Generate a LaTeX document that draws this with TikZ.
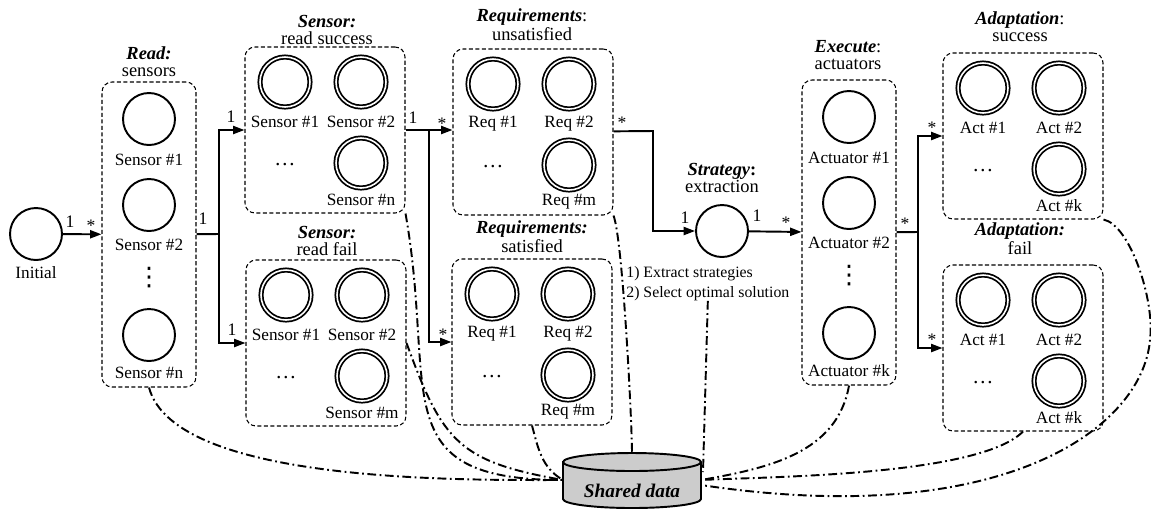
\documentclass[tikz,border=0pt]{standalone}
\usepackage{fontspec}
\setmainfont{Liberation Serif}
\newfontfamily\symfont{DejaVu Sans}
\usetikzlibrary{fit, arrows.meta}

\definecolor{dbgray}{RGB}{204,204,204}

\tikzset{
  state/.style={circle, draw, line width=1.1pt, minimum size=1.04cm, inner sep=0pt},
  fstate/.style={circle, draw, double, line width=1pt, double distance=0.9pt, minimum size=1cm, inner sep=0pt},
  group/.style={draw, dash pattern=on 2.3pt off 1.4pt, line width=0.6pt, rounded corners=0.2cm, inner sep=0pt},
  lbl/.style={font=\fontsize{9.8}{11}\selectfont, inner sep=0pt},
  title/.style={align=center, font=\fontsize{10.5}{9.5}\selectfont, inner sep=0pt},
  mult/.style={font=\fontsize{10}{11}\selectfont, inner sep=0pt},
  hdots/.style={font=\fontsize{12}{12}\selectfont, inner sep=0pt},
  vdots/.style={font=\symfont\fontsize{14.5}{15}\selectfont, inner sep=0pt},
  wire/.style={line width=1.1pt},
  link/.style={wire, -{Triangle[length=6.5pt, width=4.6pt]}},
  share/.style={line width=1.1pt, dash pattern=on 5pt off 2pt on 1pt off 2pt},
}

\begin{document}
\begin{tikzpicture}[x=0.02cm, y=0.02cm]
\useasboundingbox (0,0) rectangle (1151,-512);

% Initial state
\node[state] (init) at (36,-234) {};
\node[lbl] (initl) at (36,-273) {Initial};

% Sensor and actuator columns
\foreach \g/\cx/\gy/\kind/\idx in {rd/149/82/Sensor/n, ex/849/80/Actuator/k} {
    \node[state] (\g1) at (\cx,-\gy-37) {};
    \node[state] (\g2) at (\cx,-\gy-123) {};
    \node[state] (\g3) at (\cx,-\gy-253) {};
    \node[lbl] (\g l1) at (\cx,-\gy-78) {\kind~\#1};
    \node[lbl] (\g l2) at (\cx,-\gy-163) {\kind~\#2};
    \node[lbl] (\g l3) at (\cx,-\gy-291) {\kind~\#\idx};
    \node[vdots] (\g v) at (\cx,-\gy-196) {⋮};
    \node[group, fit={(\cx-47,-\gy) (\cx+47,-\gy-305)}] (\g) {};
}

% Result groups
\foreach \g/\cx/\gy/\kind/\idx in {ss/325/47/Sensor/n, sf/326/260/Sensor/m, ru/533/49/Req/m, rs/532/259/Req/m, as/1023/53/Act/k, af/1023/265/Act/k} {
    \node[fstate] (\g1) at (\cx-40,-\gy-35) {};
    \node[fstate] (\g2) at (\cx+36,-\gy-35) {};
    \node[fstate] (\g3) at (\cx+36,-\gy-116) {};
    \node[lbl] (\g l1) at (\cx-40,-\gy-75) {\kind~\#1};
    \node[lbl] (\g l2) at (\cx+36,-\gy-75) {\kind~\#2};
    \node[lbl] (\g l3) at (\cx+36,-\gy-153) {\kind~\#\idx};
    \node[hdots] (\g d) at (\cx-40,-\gy-118) {\dots};
    \node[group, fit={(\cx-80,-\gy) (\cx+80,-\gy-166)}] (\g) {};
}

% Group titles
\node[title] (rdh) at (149,-62) {\textbf{\textit{Read:}}\\sensors};
\node[title] (ssh) at (327,-30) {\textbf{\textit{Sensor:}}\\read success};
\node[title] (sfh) at (327,-241) {\textbf{\textit{Sensor:}}\\read fail};
\node[title] (ruh) at (532,-25) {\textbf{\textit{Requirements}}:\\unsatisfied};
\node[title] (rsh) at (532,-237) {\textbf{\textit{Requirements:}}\\satisfied};
\node[title] (sth) at (722,-178) {\textbf{\textit{Strategy}}\textbf{:}\\extraction};
\node[title] (exh) at (848,-55) {\textbf{\textit{Execute}}:\\actuators};
\node[title] (ash) at (1020,-27) {\textbf{\textit{Adaptation}}:\\success};
\node[title] (afh) at (1020,-239) {\textbf{\textit{Adaptation:}}\\fail};

% Strategy extraction
\node[state] (strat) at (722,-231) {};
\node[lbl, align=left, font=\fontsize{9}{11.3}\selectfont, anchor=north west] (strtxt) at (626,-266)
    {1) Extract strategies\\2) Select optimal solution};

% Flow connections
\coordinate (j1) at (219,-234);
\coordinate (j2) at (429,-130);
\coordinate (j3) at (653,-131);
\coordinate (j4) at (918,-232);
\draw[link] (init) -- (rd);
\draw[wire] (rd) -- (j1);
\draw[link] (j1) |- (ss);
\draw[link] (j1) |- (sf);
\draw[wire] (ss) -- (j2);
\draw[link] (j2) -- (j2 -| ru.west);
\draw[link] (j2) |- (rs);
\draw[link] (ru) -- (j3) |- (strat);
\draw[link] (strat) -- (ex);
\draw[wire] (ex) -- (j4);
\draw[link] (j4) |- (as);
\draw[link] (j4) |- (af);

% Multiplicities
\foreach \n/\x/\y/\t in {1/70/222/1, 2/91/226/*, 3/203/219/1, 4/231/117/1, 5/232/330/1,
    6/413/118/1, 7/442/124/*, 9/443/335/*, 10/622/123/*, 11/685/218/1,
    12/757/216/1, 13/786/223/*, 14/905/224/*, 15/932/128/*, 16/932/340/*} {
    \node[mult] (m\n) at (\x,-\y) {\t};
}

% Shared data store
\coordinate (dbl) at (563,-480);
\coordinate (dbr) at (701,-480);
\coordinate (dbr2) at (701,-485);
\coordinate (dbt) at (632,-453);
\coordinate (dbtr) at (703,-472);
\coordinate (turn) at (1150,-340);

\draw[share] (rd.south) to[out=-75, in=180, looseness=0.6] (dbl);
\draw[share] (ss.south east) to[out=-80, in=180, looseness=1.5] (dbl);
\draw[share] (sf.east) to[out=-70, in=170, looseness=1.3] (dbl);
\draw[share] (rs.south) to[out=-75, in=150] (dbl);
\draw[share] (ru.south east) to[out=-70, in=90, looseness=0.3] (dbt);
\draw[share] (strtxt.south) -- (dbtr);
\draw[share] (ex.south) to[out=-100, in=10] (dbr);
\draw[share] (af.south) to[out=-135, in=3, looseness=0.5] (dbr);
\draw[share] (as.south east) .. controls (1130,-225) and (1155,-300) .. (turn)
    .. controls (1142,-430) and (1000,-530) .. (dbr2);

\draw[line width=1.1pt, fill=dbgray] (563,-462) -- (563,-499)
    arc[start angle=180, end angle=360, x radius=1.38cm, y radius=0.18cm] -- (701,-462)
    arc[start angle=0, end angle=180, x radius=1.38cm, y radius=0.18cm] -- cycle;
\draw[line width=1.1pt] (563,-462) arc[start angle=180, end angle=360, x radius=1.38cm, y radius=0.18cm];
\node[font=\bfseries\itshape\fontsize{11}{12}\selectfont, inner sep=0pt] (db) at (632,-491) {Shared data};

\end{tikzpicture}
\end{document}
